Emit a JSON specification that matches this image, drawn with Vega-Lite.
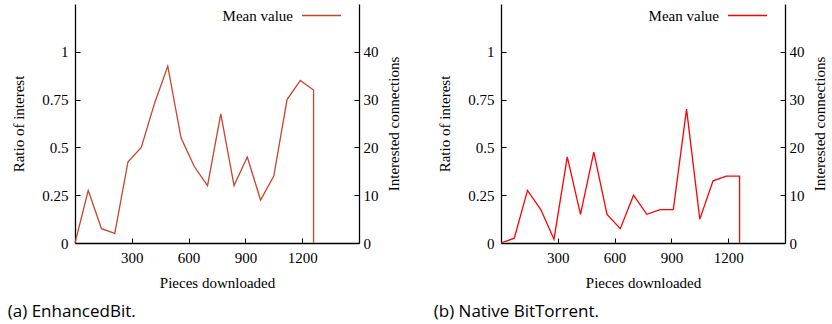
{
  "$schema": "https://vega.github.io/schema/vega-lite/v6.json",
  "padding": {"left": 7, "top": 4, "right": 0, "bottom": 0},
  "background": "white",
  "config": {
    "font": "Liberation Serif",
    "view": {"stroke": null},
    "axis": {
      "labelFont": "Liberation Serif", "titleFont": "Liberation Serif",
      "labelFontSize": 15, "titleFontSize": 15, "titleFontWeight": "normal",
      "labelColor": "#000", "titleColor": "#000",
      "domainColor": "#000", "tickColor": "#000", "domainWidth": 1.3, "tickWidth": 1,
      "grid": false, "tickSize": -5, "labelPadding": 12
    },
    "axisX": {"titlePadding": 10},
    "axisLeft": {"titlePadding": 15},
    "axisRight": {"titlePadding": 8, "labelPadding": 9, "titleAngle": -90, "titleBaseline": "top"},
    "legend": {
      "title": null, "orient": "none", "legendX": 238, "legendY": 3, "padding": 0,
      "symbolType": "M-2.6,0H2.6", "symbolSize": 225, "symbolStrokeWidth": 1.3,
      "labelFont": "Liberation Serif", "labelFontSize": 15, "labelColor": "#000",
      "labelAlign": "right", "labelOffset": -37
    },
    "title": {"font": "Open Sans", "fontSize": 17, "fontWeight": "normal", "orient": "bottom", "anchor": "start", "color": "#000", "offset": 14, "dx": -4},
    "concat": {"spacing": 32}
  },
  "datasets": {
    "a": [
      {"pieces": 0, "ratio": 0, "series": "Mean value"},
      {"pieces": 70, "ratio": 0.275, "series": "Mean value"},
      {"pieces": 140, "ratio": 0.075, "series": "Mean value"},
      {"pieces": 210, "ratio": 0.05, "series": "Mean value"},
      {"pieces": 280, "ratio": 0.425, "series": "Mean value"},
      {"pieces": 350, "ratio": 0.5, "series": "Mean value"},
      {"pieces": 420, "ratio": 0.73, "series": "Mean value"},
      {"pieces": 490, "ratio": 0.925, "series": "Mean value"},
      {"pieces": 560, "ratio": 0.55, "series": "Mean value"},
      {"pieces": 630, "ratio": 0.4, "series": "Mean value"},
      {"pieces": 700, "ratio": 0.3, "series": "Mean value"},
      {"pieces": 770, "ratio": 0.675, "series": "Mean value"},
      {"pieces": 840, "ratio": 0.3, "series": "Mean value"},
      {"pieces": 910, "ratio": 0.45, "series": "Mean value"},
      {"pieces": 980, "ratio": 0.225, "series": "Mean value"},
      {"pieces": 1050, "ratio": 0.35, "series": "Mean value"},
      {"pieces": 1120, "ratio": 0.75, "series": "Mean value"},
      {"pieces": 1190, "ratio": 0.85, "series": "Mean value"},
      {"pieces": 1260, "ratio": 0.8, "series": "Mean value"},
      {"pieces": 1260, "ratio": 0, "series": "Mean value"}
    ],
    "b": [
      {"pieces": 0, "ratio": 0, "series": "Mean value"},
      {"pieces": 70, "ratio": 0.025, "series": "Mean value"},
      {"pieces": 140, "ratio": 0.275, "series": "Mean value"},
      {"pieces": 210, "ratio": 0.175, "series": "Mean value"},
      {"pieces": 280, "ratio": 0.02, "series": "Mean value"},
      {"pieces": 350, "ratio": 0.45, "series": "Mean value"},
      {"pieces": 420, "ratio": 0.15, "series": "Mean value"},
      {"pieces": 490, "ratio": 0.475, "series": "Mean value"},
      {"pieces": 560, "ratio": 0.15, "series": "Mean value"},
      {"pieces": 630, "ratio": 0.075, "series": "Mean value"},
      {"pieces": 700, "ratio": 0.25, "series": "Mean value"},
      {"pieces": 770, "ratio": 0.15, "series": "Mean value"},
      {"pieces": 840, "ratio": 0.175, "series": "Mean value"},
      {"pieces": 910, "ratio": 0.175, "series": "Mean value"},
      {"pieces": 980, "ratio": 0.7, "series": "Mean value"},
      {"pieces": 1050, "ratio": 0.125, "series": "Mean value"},
      {"pieces": 1120, "ratio": 0.325, "series": "Mean value"},
      {"pieces": 1190, "ratio": 0.35, "series": "Mean value"},
      {"pieces": 1260, "ratio": 0.35, "series": "Mean value"},
      {"pieces": 1260, "ratio": 0, "series": "Mean value"}
    ]
  },
  "hconcat": [
    {
      "title": {"text": "(a) EnhancedBit."},
      "width": 284, "height": 239,
      "data": {"name": "a"},
      "layer": [
        {
          "mark": {"type": "line", "strokeWidth": 1.3},
          "encoding": {
            "x": {"field": "pieces", "type": "quantitative", "scale": {"domain": [0, 1500], "nice": false}, "axis": {"values": [300, 600, 900, 1200], "format": "d", "title": "Pieces downloaded"}},
            "y": {"field": "ratio", "type": "quantitative", "scale": {"domain": [0, 1.25], "nice": false}, "axis": {"values": [0, 0.25, 0.5, 0.75, 1], "format": "~g", "title": "Ratio of interest"}},
            "color": {"field": "series", "type": "nominal", "scale": {"range": ["#c8442a"]}},
            "order": {"value": null}
          }
        },
        {
          "mark": {"type": "point", "opacity": 0},
          "encoding": {
            "y": {"datum": 0, "type": "quantitative", "scale": {"domain": [0, 50], "nice": false}, "axis": {"orient": "right", "values": [0, 10, 20, 30, 40], "title": "Interested connections"}}
          }
        }
      ],
      "resolve": {"scale": {"y": "independent"}, "axis": {"y": "independent"}}
    },
    {
      "title": {"text": "(b) Native BitTorrent."},
      "width": 284, "height": 239,
      "data": {"name": "b"},
      "layer": [
        {
          "mark": {"type": "line", "strokeWidth": 1.3},
          "encoding": {
            "x": {"field": "pieces", "type": "quantitative", "scale": {"domain": [0, 1500], "nice": false}, "axis": {"values": [300, 600, 900, 1200], "format": "d", "title": "Pieces downloaded"}},
            "y": {"field": "ratio", "type": "quantitative", "scale": {"domain": [0, 1.25], "nice": false}, "axis": {"values": [0, 0.25, 0.5, 0.75, 1], "format": "~g", "title": "Ratio of interest"}},
            "color": {"field": "series", "type": "nominal", "scale": {"range": ["#ff0000"]}},
            "order": {"value": null}
          }
        },
        {
          "mark": {"type": "point", "opacity": 0},
          "encoding": {
            "y": {"datum": 0, "type": "quantitative", "scale": {"domain": [0, 50], "nice": false}, "axis": {"orient": "right", "values": [0, 10, 20, 30, 40], "title": "Interested connections"}}
          }
        }
      ],
      "resolve": {"scale": {"y": "independent"}, "axis": {"y": "independent"}}
    }
  ],
  "resolve": {"scale": {"color": "independent"}}
}
